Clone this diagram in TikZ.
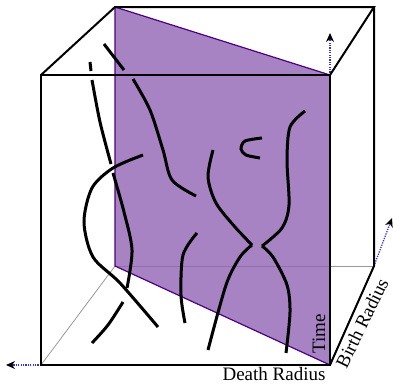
\documentclass[tikz,border=0pt]{standalone}
\usepackage{fontspec}
\setmainfont{Liberation Serif}
\usetikzlibrary{arrows.meta}
\definecolor{planebase}{RGB}{146,100,180}
\definecolor{planeedge}{RGB}{75,0,130}
\definecolor{axisblue}{RGB}{50,50,210}
\tikzset{
  edge/.style={black, line width=2pt},
  hidden/.style={gray!80, line width=0.8pt},
  strand/.style={black, line width=3pt},
  axis/.style={axisblue, line width=1.3pt, dash pattern=on 1.2pt off 1.2pt, -{Stealth[length=9pt,width=8pt,black]}},
  lbl/.style={font=\fontsize{19}{20}\selectfont, inner sep=0pt}
}
\begin{document}
\begin{tikzpicture}[x=1pt,y=-1pt]
\useasboundingbox (0,0) rectangle (393,383);
% cube corners
\coordinate (ftl) at (41,75);
\coordinate (ftr) at (330,75);
\coordinate (fbl) at (41,365);
\coordinate (fbr) at (330,365);
\coordinate (btl) at (115,7);
\coordinate (btr) at (374,7);
\coordinate (bbl) at (115,266);
\coordinate (bbr) at (374,266);
% hidden edges
\draw[hidden] (bbl) -- (bbr);
\draw[hidden] (bbl) -- (fbl);
% plane
\fill[planebase, fill opacity=0.8] (btl) -- (ftr) -- (fbr) -- (bbl) -- cycle;
\draw[planeedge, line width=1.2pt] (fbr) -- (bbl) -- (btl) -- (ftr);
% axes
\coordinate (tup) at (330,33);
\coordinate (tleft) at (6,365);
\coordinate (tbirth) at (392,218);
\draw[axis] (ftr) -- (tup);
\draw[axis] (fbl) -- (tleft);
\draw[axis] (bbr) -- (tbirth);
% visible edges
\draw[edge] (fbl) -- (ftl) -- (ftr) -- (fbr) -- cycle;
\draw[edge] (ftl) -- (btl) -- (btr) -- (ftr);
\draw[edge] (btr) -- (bbr) -- (fbr);
% strands
\draw[strand] plot[smooth] coordinates {(90,62) (91,71)};
\draw[strand] plot[smooth] coordinates {(92,80) (100,122) (111,164)};
\draw[strand] plot[smooth] coordinates {(113,173) (124,212) (132,250) (127,288)};
\draw[strand] plot[smooth] coordinates {(123,302) (108,325) (92,343)};
\draw[strand] plot[smooth] coordinates {(143,155) (113,168) (92,188) (84,222) (93,257) (120,283) (158,327)};
\draw[strand] plot[smooth] coordinates {(104,44) (124,70)};
\draw[strand] plot[smooth] coordinates {(133,79) (150,110) (163,150) (172,180) (196,196)};
\draw[strand] plot[smooth] coordinates {(197,233) (183,255) (181,295) (185,323)};
\draw[strand] plot[smooth] coordinates {(213,150) (208,177) (216,203) (235,227) (252,245)};
\draw[strand] plot[smooth] coordinates {(252,245) (240,257) (226,285) (208,350)};
\draw[strand] plot[smooth] coordinates {(305,111) (290,127) (287,160) (289,205) (282,228) (262,246)};
\draw[strand] plot[smooth] coordinates {(262,246) (273,257) (287,285) (290,312) (286,353)};
\draw[strand] plot[smooth] coordinates {(262,138) (245,141) (241,149) (246,155) (260,158)};
% labels
\node[lbl, anchor=base] (death) at (274,380) {Death Radius};
\node[lbl, rotate=90, anchor=base] (time) at (325,334) {Time};
\node[lbl, rotate=64] (birth) at (362,323) {Birth Radius};
\end{tikzpicture}
\end{document}
